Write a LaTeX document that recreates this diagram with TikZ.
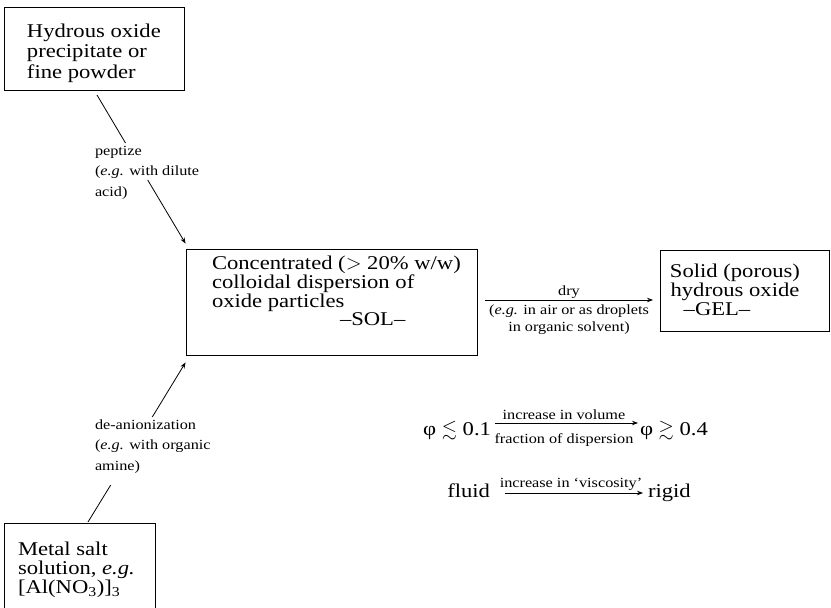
\documentclass[tikz,border=0pt]{standalone}
\usepackage{amssymb}
\usepackage{fontspec}
\setmainfont{Liberation Serif}[FakeStretch=1.16]
\usetikzlibrary{arrows.meta,calc}
\tikzset{
  box/.style={draw,line width=0.9pt,inner sep=0pt},
  mainf/.style={font=\fontsize{19.5}{20.5}\selectfont,inner sep=0pt,outer sep=0pt},
  smallf/.style={font=\fontsize{14}{20.5}\selectfont,inner sep=0pt,outer sep=0pt},
  conn/.style={line width=0.8pt},
  arr/.style={line width=0.8pt,-{Stealth[length=6pt,width=4.5pt]}}
}
\begin{document}
\begin{tikzpicture}[x=1pt,y=-1pt]
\useasboundingbox (0,0) rectangle (831,608);
\clip (0,0) rectangle (831,608);
% boxes
\node[box,minimum width=180pt,minimum height=83pt] (hyd) at (94,48.5) {};
\node[mainf,anchor=base west,align=left] (hydt) at (27,78) {Hydrous oxide\\precipitate or\\fine powder};

\node[box,minimum width=291pt,minimum height=106pt] (sol) at (331.5,302) {};
\node[mainf,anchor=base west,align=left,font=\fontsize{19.5}{17.5}\selectfont] (solt) at (212,325) {Concentrated ($>$ 20\% w/w)\\colloidal dispersion of\\oxide particles\\\hspace*{128pt}--SOL--};

\node[box,minimum width=169pt,minimum height=81pt] (gel) at (745,290.5) {};
\node[mainf,anchor=base,align=center,font=\fontsize{19.5}{19}\selectfont] (gelt) at (735,315) {Solid (porous)\\hydrous oxide\\--GEL--\hspace*{36pt}};

\node[box,minimum width=151pt,minimum height=100pt] (met) at (79.5,573) {};
\node[mainf,anchor=base west,align=left,font=\fontsize{19.5}{19}\selectfont] (mett) at (18,593) {Metal salt\\solution, \textit{e.g.}\\{[}Al(NO\textsubscript{3})]\textsubscript{3}};

% peptize connector
\coordinate (pA1) at (97,95);
\coordinate (pA2) at (125.5,143);
\coordinate (pA3) at (147.7,180);
\draw[conn] (pA1) -- (pA2);
\draw[arr] (pA3) -- ($(sol.north west)+(0,-5)$);
\node[smallf,anchor=base west,align=left] (pep) at (95,196) {peptize\\(\textit{e.g.} with dilute\\acid)};

% de-anionization connector
\coordinate (pB1) at (88,522);
\coordinate (pB2) at (110.7,485);
\coordinate (pB3) at (152.3,417);
\draw[conn] (pB1) -- (pB2);
\draw[arr] (pB3) -- ($(sol.south west)+(0,7)$);
\node[smallf,anchor=base west,align=left] (dea) at (95,470) {de-anionization\\(\textit{e.g.} with organic\\amine)};

% dry arrow
\coordinate (dA) at (485,300);
\coordinate (dB) at (653,300);
\draw[arr] (dA) -- (dB);
\node[smallf,anchor=base] (dry) at (569,295) {dry};
\node[smallf,anchor=base,align=center,font=\fontsize{14}{17}\selectfont] (dryl) at (569,331) {(\textit{e.g.} in air or as droplets\\in organic solvent)};

% phi row
\node[mainf,anchor=base east] (p1) at (491,435) {φ $\lesssim$ 0.1};
\node[mainf,anchor=base west] (p2) at (640,435) {φ $\gtrsim$ 0.4};
\coordinate (qA) at (495,423);
\coordinate (qB) at (638,423);
\draw[arr] (qA) -- (qB);
\node[smallf,anchor=base] (vol1) at (564,419) {increase in volume};
\node[smallf,anchor=base] (vol2) at (564,443) {fraction of dispersion};

% fluid row
\node[mainf,anchor=base east] (fl) at (490,497) {fluid};
\node[mainf,anchor=base west] (rg) at (648,497) {rigid};
\coordinate (rA) at (505,493);
\coordinate (rB) at (643,493);
\draw[arr] (rA) -- (rB);
\node[smallf,anchor=base] (visc) at (571,487) {increase in `viscosity'};
\end{tikzpicture}
\end{document}
